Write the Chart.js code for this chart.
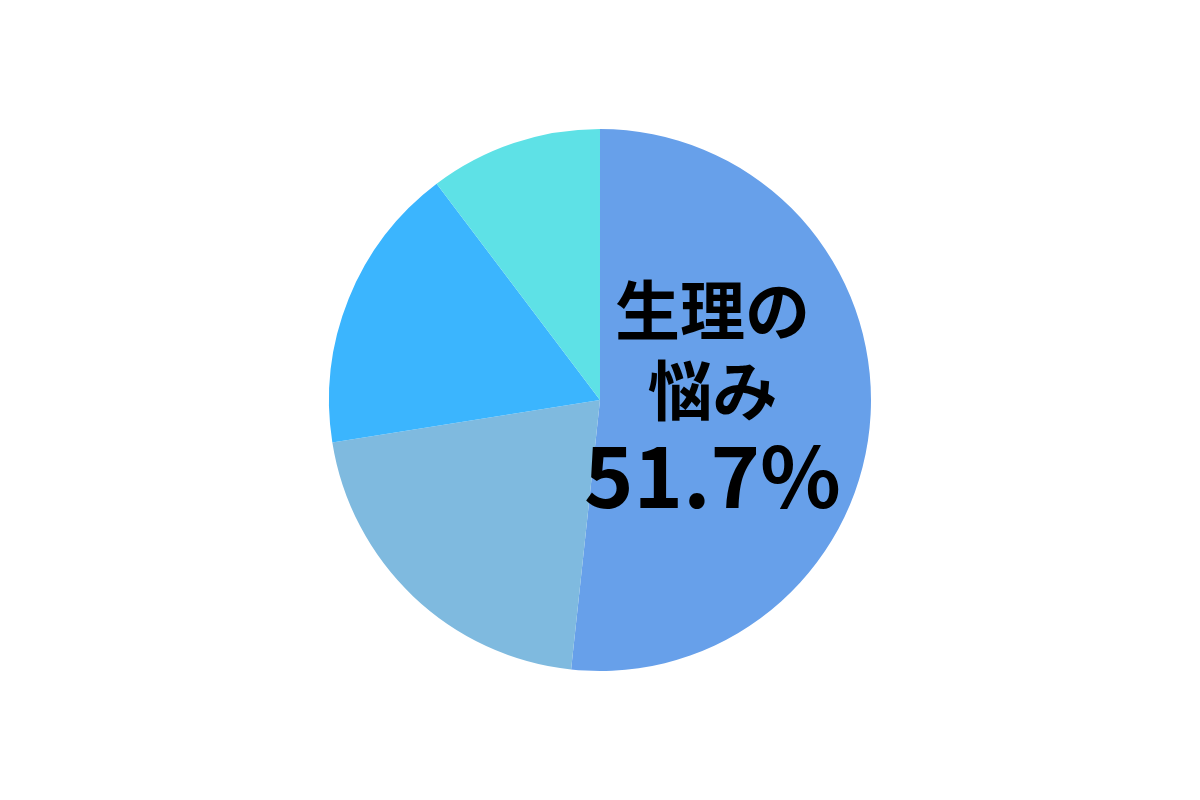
<!DOCTYPE html>
<html>
<head>
<meta charset="utf-8">
<script src="https://cdn.jsdelivr.net/npm/chart.js@4"></script>
<style>
  html, body { margin: 0; padding: 0; background: #fff; }
  #wrap { width: 1200px; height: 800px; }
</style>
</head>
<body>
<div id="wrap"><canvas id="pieChart"></canvas></div>
<script>
const labels = ["生理の悩み", "その他A", "その他B", "その他C"];
const values = [51.7, 20.8, 17.2, 10.3];
const colors = ["#67A0EA", "#7FBADF", "#3BB5FE", "#5EE1E6"];
const labelLines = ["生理の", "悩み"];
const labelValue = values[0].toFixed(1) + "%";

// draws the big label inside the first slice
const sliceLabel = {
  id: "sliceLabel",
  afterDatasetsDraw(chart) {
    const ctx = chart.ctx;
    const arc = chart.getDatasetMeta(0).data[0];
    const cx = arc.x + arc.outerRadius * 0.415;
    const cy = arc.y;
    ctx.save();
    ctx.fillStyle = "#000";
    ctx.textAlign = "center";
    ctx.textBaseline = "middle";
    ctx.font = "bold 65px 'Noto Sans CJK JP'";
    ctx.fillText(labelLines[0], cx, cy - 90);
    ctx.fillText(labelLines[1], cx, cy - 10);
    ctx.font = "bold 84px 'Noto Sans CJK JP'";
    ctx.fillText(labelValue, cx, cy + 76);
    ctx.restore();
  }
};

const ctx = document.getElementById("pieChart").getContext("2d");
new Chart(ctx, {
  type: "pie",
  data: {
    labels: labels,
    datasets: [{
      data: values,
      backgroundColor: colors,
      borderWidth: 0
    }]
  },
  options: {
    responsive: true,
    maintainAspectRatio: false,
    animation: false,
    layout: { padding: { top: 129, bottom: 129 } },
    plugins: {
      legend: { display: false },
      tooltip: { enabled: false }
    }
  },
  plugins: [sliceLabel]
});
</script>
</body>
</html>
